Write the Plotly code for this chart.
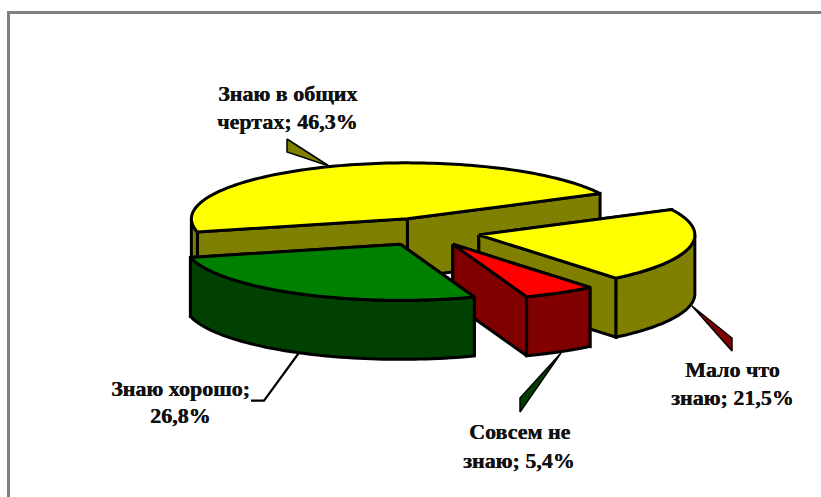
import numpy as np
import plotly.graph_objects as go

# Data
categories = ["Знаю хорошо", "Знаю в общих чертах", "Мало что знаю", "Совсем не знаю"]
values = [26.8, 46.3, 21.5, 5.4]
top_colors = ["#008000", "#FFFF00", "#FFFF00", "#FF0000"]
side_colors = ["#004000", "#808000", "#808000", "#800000"]
label_lines = [
    ["Знаю хорошо;", "{v}"],
    ["Знаю в общих", "чертах; {v}"],
    ["Мало что", "знаю; {v}"],
    ["Совсем не", "знаю; {v}"],
]
label_centers = [(180, 388, 415), (287, 93, 121), (732, 369, 397), (519, 431, 460)]

# Pie projection
W, H = 821, 497
CX, CY, RX, RY = 426.0, 232.0, 216.0, 56.0
DEPTH = 59.0
EXPLODE = 0.25
FIRST_ANGLE = 160.0
LW = 3.0


def pt(cx, cy, deg):
    t = np.radians(deg)
    return cx + RX * np.sin(t), cy - RY * np.cos(t)


fig = go.Figure()


def poly(xs, ys, fill, lw=LW, closed=True):
    xs, ys = list(xs), list(ys)
    if closed:
        xs.append(xs[0])
        ys.append(ys[0])
    fig.add_trace(go.Scatter(
        x=xs, y=ys, mode="lines", fill="toself" if fill else None,
        fillcolor=fill, line=dict(color="#000000", width=lw, simplify=False),
        hoverinfo="skip", showlegend=False,
    ))


# Leader marks
poly([287, 287, 329], [139, 152, 166], "#808000", 1.5)
poly([692, 732, 732], [306, 338, 351], "#800000", 1.5)
poly([561, 520, 520], [353, 398, 412], "#004000", 1.5)
poly([251, 264, 301], [400.7, 400.7, 350], None, 2.2, closed=False)

# Slice angles derived from the values
total = sum(values)
spans = [v / total * 360 for v in values]
starts = [FIRST_ANGLE + sum(spans[:i]) for i in range(len(values))]

slices = []
for v, s, a, top, side in zip(values, spans, starts, top_colors, side_colors):
    mid = a + s / 2
    ex, ey = pt(0, 0, mid)
    slices.append(dict(cx=CX + EXPLODE * ex, cy=CY + EXPLODE * ey, a=a, b=a + s, top=top, side=side))

# Painter's order: back to front
for i in [1, 2, 3, 0]:
    sl = slices[i]
    cx, cy, a, b = sl["cx"], sl["cy"], sl["a"], sl["b"]
    # radial faces, farther edge first
    ends = sorted([a, b], key=lambda d: pt(cx, cy, d)[1])
    for d in ends:
        px, py = pt(cx, cy, d)
        poly([cx, px, px, cx], [cy, py, py + DEPTH, cy + DEPTH], sl["side"])
    # outer wall: front-facing arc portions only (cos < 0 means 90..270 degrees)
    for off in (0, 360, -360):
        lo, hi = max(a, 90 + off), min(b, 270 + off)
        if hi > lo:
            arc = np.linspace(lo, hi, 60)
            ax, ay = pt(cx, cy, arc)
            poly(np.r_[ax, ax[::-1]], np.r_[ay, ay[::-1] + DEPTH], sl["side"])
    # top surface
    arc = np.linspace(a, b, 120)
    ax, ay = pt(cx, cy, arc)
    poly(np.r_[cx, ax], np.r_[cy, ay], sl["top"])

# Labels
annotations = []
for lines, (lx, y1, y2), v in zip(label_lines, label_centers, values):
    pct = f"{v:.1f}".replace(".", ",") + "%"
    for text, y in zip(lines, (y1, y2)):
        annotations.append(dict(
            x=lx, y=y, xref="x", yref="y", showarrow=False,
            text="<b>" + text.format(v=pct) + "</b>", xanchor="center", yanchor="middle",
            font=dict(family="Liberation Serif", size=22, color="#111111", shadow="0.4px 0 0 #111111"),
        ))

fig.update_layout(
    width=W, height=H, autosize=False,
    margin=dict(l=0, r=0, t=0, b=0),
    paper_bgcolor="#FFFFFF", plot_bgcolor="#FFFFFF",
    xaxis=dict(range=[0, W], visible=False, fixedrange=True),
    yaxis=dict(range=[H, 0], visible=False, fixedrange=True),
    annotations=annotations,
    shapes=[
        dict(type="line", x0=8.5, x1=8.5, y0=11, y1=H, xref="x", yref="y", line=dict(color="#808080", width=3)),
        dict(type="line", x0=7, x1=W, y0=12.5, y1=12.5, xref="x", yref="y", line=dict(color="#808080", width=3)),
    ],
)
fig.write_html(
    "out.html",
    config={"displayModeBar": False},
    post_script="document.body.style.margin='0';document.body.style.overflow='hidden';",
)
